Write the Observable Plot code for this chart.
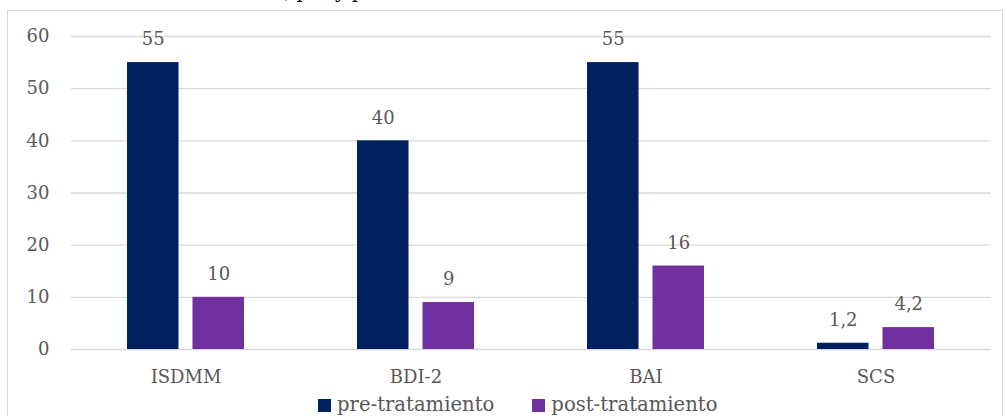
<!DOCTYPE html>
<html>
<head>
<meta charset="utf-8">
<script src="https://cdn.jsdelivr.net/npm/d3@7"></script>
<script src="https://cdn.jsdelivr.net/npm/@observablehq/plot@0.6"></script>
<style>
  html, body { margin: 0; padding: 0; background: #fff; overflow: hidden; }
  body { width: 1007px; height: 416px; position: relative; font-family: "DejaVu Serif", serif; }
  #frame { position: absolute; left: 7px; top: 10px; width: 996px; height: 430px; border: 1px solid #d9d9d9; box-sizing: border-box; }
  #title { position: absolute; left: 80px; top: -19px; font-size: 19px; line-height: 20px; color: #000; white-space: nowrap; }
  #chart { position: absolute; left: 0; top: 0; }
  #legend { position: absolute; left: 318px; top: 394px; display: flex; align-items: center; font-size: 19.6px; color: #595959; line-height: 22px; }
  #legend .item { display: flex; align-items: center; margin-right: 38px; }
  #legend .sw { width: 13px; height: 13px; margin-right: 6px; }
</style>
</head>
<body>
<div id="frame"></div>
<div id="title">Puntuaciones medias, pre y post-tratamiento</div>
<div id="chart"></div>
<div id="legend"></div>
<script>
// Scales and their scores before and after treatment
const categories = ["ISDMM", "BDI-2", "BAI", "SCS"];
const preValues = [55, 40, 55, 1.2];
const postValues = [10, 9, 16, 4.2];
const seriesNames = ["pre-tratamiento", "post-tratamiento"];
const seriesColors = ["#002060", "#7030A0"];
const yTicks = [0, 10, 20, 30, 40, 50, 60];

const pre = categories.map((c, i) => ({category: c, value: preValues[i]}));
const post = categories.map((c, i) => ({category: c, value: postValues[i]}));

const fmt = v => String(v).replace(".", ",");
const textColor = "#595959";

// Each category band holds two bars side by side: pre on the left, post on the right
const band = 117, barW = 51.5, half = (band - barW) / 2;

const chart = Plot.plot({
  width: 1007,
  height: 395,
  marginLeft: 71,
  marginRight: 16,
  marginTop: 36,
  marginBottom: 46,
  style: {background: "transparent", fontFamily: "DejaVu Serif, serif", fontSize: "18px", color: textColor},
  x: {domain: categories, paddingInner: 0.4913, paddingOuter: 0.24565, label: null, tickSize: 0, tickPadding: 21},
  y: {domain: [0, 60], ticks: yTicks, label: null, tickSize: 0, tickPadding: 22},
  marks: [
    Plot.ruleY(yTicks, {stroke: "#d9d9d9", strokeWidth: 1.3}),
    Plot.barY(pre, {x: "category", y: "value", fill: seriesColors[0], insetRight: band - barW}),
    Plot.barY(post, {x: "category", y: "value", fill: seriesColors[1], insetLeft: band - barW}),
    Plot.text(pre, {x: "category", y: "value", text: d => fmt(d.value), dx: -half, dy: -23, fill: textColor, fontSize: 18}),
    Plot.text(post, {x: "category", y: "value", text: d => fmt(d.value), dx: half, dy: -23, fill: textColor, fontSize: 18})
  ]
});
document.getElementById("chart").appendChild(chart);

// Legend below the plot
const legend = document.getElementById("legend");
seriesNames.forEach((name, i) => {
  const item = document.createElement("div");
  item.className = "item";
  const sw = document.createElement("span");
  sw.className = "sw";
  sw.style.background = seriesColors[i];
  const label = document.createElement("span");
  label.textContent = name;
  item.appendChild(sw);
  item.appendChild(label);
  legend.appendChild(item);
});
</script>
</body>
</html>
